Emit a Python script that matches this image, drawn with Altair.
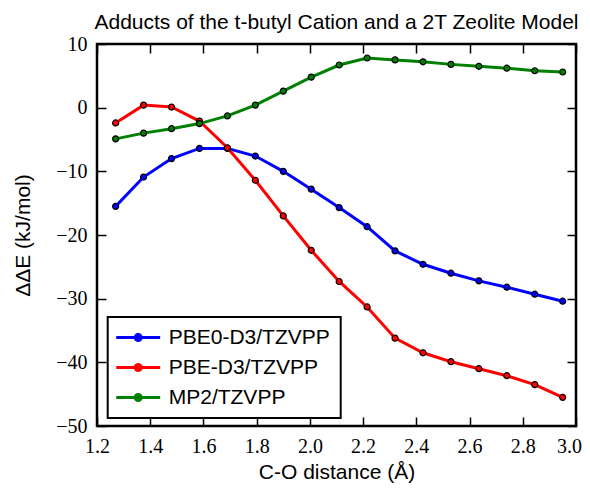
import altair as alt
import pandas as pd

x_vals = [1.27, 1.375, 1.48, 1.585, 1.69, 1.795, 1.90, 2.005, 2.11, 2.215,
          2.32, 2.425, 2.53, 2.635, 2.74, 2.845, 2.95]
pbe0 = [-15.5, -10.9, -8.0, -6.4, -6.4, -7.6, -10.0, -12.8, -15.7, -18.7,
        -22.5, -24.6, -26.0, -27.2, -28.2, -29.3, -30.4]
pbe = [-2.4, 0.4, 0.1, -2.1, -6.3, -11.4, -17.0, -22.4, -27.3, -31.3,
       -36.2, -38.5, -39.9, -41.0, -42.1, -43.5, -45.5]
mp2 = [-4.9, -4.0, -3.3, -2.5, -1.3, 0.4, 2.6, 4.8, 6.7, 7.8,
       7.5, 7.2, 6.8, 6.5, 6.2, 5.8, 5.6]
series_names = ["PBE0-D3/TZVPP", "PBE-D3/TZVPP", "MP2/TZVPP"]
series_colors = ["#0000ff", "#ff0000", "#008000"]
x_ticks = [1.2, 1.4, 1.6, 1.8, 2.0, 2.2, 2.4, 2.6, 2.8, 3.0]
y_ticks = [-50, -40, -30, -20, -10, 0, 10]

rows = []
for name, vals in zip(series_names, [pbe0, pbe, mp2]):
    for i, (xv, yv) in enumerate(zip(x_vals, vals)):
        rows.append({"x": xv, "y": yv, "method": name, "order": i})
df = pd.DataFrame(rows)

TICK = 9
SANS = "Liberation Sans"
SERIF = "Liberation Serif"
xscale = alt.Scale(domain=[1.2, 3.0], nice=False, zero=False)
yscale = alt.Scale(domain=[-50, 10], nice=False, zero=False)
color = alt.Color(
    "method:N",
    scale=alt.Scale(domain=series_names, range=series_colors),
    sort=series_names,
    legend=alt.Legend(
        title=None, orient="none", legendX=10.7, legendY=273,
        labelFont=SANS, labelFontSize=21, labelColor="black", labelLimit=400,
        symbolType="M-2.44,0L2.44,0M-0.33,0A0.33,0.33,0,1,1,0.33,0A0.33,0.33,0,1,1,-0.33,0Z",
        symbolSize=324, symbolStrokeWidth=3,
        strokeColor="black", fillColor="white", padding=10,
        rowPadding=8, labelOffset=20, symbolOffset=10,
    ),
)

lines = alt.Chart(df).mark_line(strokeWidth=3).encode(
    x=alt.X("x:Q", scale=xscale,
            axis=alt.Axis(orient="top", values=x_ticks, labels=False, title=None,
                          domain=False, grid=False, tickSize=TICK, offset=-TICK,
                          tickColor="black", tickWidth=1.5)),
    y=alt.Y("y:Q", scale=yscale,
            axis=alt.Axis(orient="right", values=y_ticks, labels=False, title=None,
                          domain=False, grid=False, tickSize=TICK, offset=-TICK,
                          tickColor="black", tickWidth=1.5)),
    color=color,
    order="order:Q",
)

points = alt.Chart(df).mark_point(filled=True, size=36, stroke="black",
                                  strokeWidth=1.2, opacity=1).encode(
    x=alt.X("x:Q", scale=xscale,
            axis=alt.Axis(orient="bottom", values=x_ticks, format=".1f",
                          domain=False, grid=False, tickSize=TICK, offset=-TICK,
                          tickColor="black", tickWidth=1.5,
                          labelFont=SERIF, labelFontSize=20,
                          labelColor="black", labelPadding=10, labelFlush=False,
                          labelOverlap=False,
                          labelOffset={"condition": {"test": "datum.value >= 2.99",
                                                     "value": -7},
                                       "value": 0},
                          title="C-O distance (Å)", titleFont=SANS,
                          titleFontSize=21, titleFontWeight="normal",
                          titleColor="black", titlePadding=5)),
    y=alt.Y("y:Q", scale=yscale,
            axis=alt.Axis(orient="left", values=y_ticks, format="d",
                          domain=False, grid=False, tickSize=TICK, offset=-TICK,
                          tickColor="black", tickWidth=1.5,
                          labelFont=SERIF, labelFontSize=20,
                          labelColor="black", labelPadding=10, labelFlush=False,
                          labelOverlap=False,
                          title="ΔΔE (kJ/mol)", titleFont=SANS,
                          titleFontSize=21, titleFontWeight="normal",
                          titleColor="black", titlePadding=22)),
    color=color,
)

chart = alt.layer(lines, points).resolve_axis(
    x="independent", y="independent"
).properties(
    width=479, height=382,
    autosize=alt.AutoSizeParams(type="none"),
    padding={"left": 89, "top": 36, "right": 6, "bottom": 59},
    title=alt.Title("Adducts of the t-butyl Cation and a 2T Zeolite Model",
                    font=SANS, fontSize=21, fontWeight="normal",
                    color="black", offset=1, anchor="middle"),
).configure_view(
    stroke="black", strokeWidth=2.5
).configure_legend(strokeWidth=2)

chart.save("out.html", embed_options={"renderer": "svg", "actions": False})
